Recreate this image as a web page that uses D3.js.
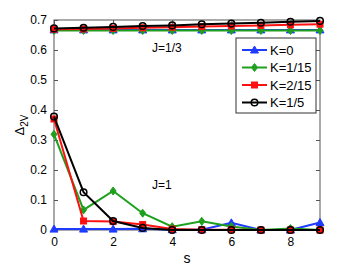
<!DOCTYPE html>
<html>
<head>
<meta charset="utf-8">
<script src="https://cdn.jsdelivr.net/npm/d3@7"></script>
<style>
  body { margin: 0; background: #fff; }
  svg text { font-family: "Liberation Sans", Arial, sans-serif; fill: #000; }
</style>
</head>
<body>
<div id="chart"></div>
<script>
var width = 354, height = 266;
var margin = {top: 20, right: 34, bottom: 36, left: 54};

// s values along the x axis
var sVals = [0, 1, 2, 3, 4, 5, 6, 7, 8, 9];
var xTicks = [0, 2, 4, 6, 8];
var yTicks = [0, 0.1, 0.2, 0.3, 0.4, 0.5, 0.6, 0.7];

// J=1/3 branch (upper curves)
var k0Top   = [0.667, 0.667, 0.667, 0.667, 0.667, 0.667, 0.667, 0.667, 0.667, 0.667];
var k115Top = [0.665, 0.665, 0.665, 0.665, 0.665, 0.665, 0.665, 0.665, 0.665, 0.665];
var k215Top = [0.669, 0.670, 0.672, 0.674, 0.676, 0.678, 0.680, 0.682, 0.684, 0.686];
var k15Top  = [0.672, 0.674, 0.677, 0.680, 0.682, 0.686, 0.688, 0.691, 0.694, 0.697];

// J=1 branch (lower curves)
var k0Low   = [0.003, 0.003, 0.003, 0.004, 0.001, 0.001, 0.024, 0.000, 0.000, 0.025];
var k115Low = [0.319, 0.067, 0.130, 0.056, 0.011, 0.029, 0.012, 0.000, 0.005, 0.000];
var k215Low = [0.370, 0.030, 0.028, 0.018, 0.003, 0.001, 0.001, 0.000, 0.000, 0.000];
var k15Low  = [0.378, 0.126, 0.030, 0.007, 0.000, 0.000, 0.000, 0.000, 0.000, 0.000];

var series = [
  {name: "K=0",    color: "#1f3bff", marker: "triangle", top: k0Top,   low: k0Low},
  {name: "K=1/15", color: "#1ea01e", marker: "diamond",  top: k115Top, low: k115Low},
  {name: "K=2/15", color: "#ff1010", marker: "square",   top: k215Top, low: k215Low},
  {name: "K=1/5",  color: "#000000", marker: "circle",   top: k15Top,  low: k15Low}
];

var svg = d3.select("#chart").append("svg")
  .attr("width", width).attr("height", height);

var x = d3.scaleLinear().domain([0, 9]).range([margin.left, width - margin.right]);
var y = d3.scaleLinear().domain([0, 0.7]).range([height - margin.bottom, margin.top]);

// axes box, matlab style with inward ticks
var axisColor = "#555";
svg.append("rect")
  .attr("x", x(0)).attr("y", y(0.7))
  .attr("width", x(9) - x(0)).attr("height", y(0) - y(0.7))
  .attr("fill", "none").attr("stroke", axisColor).attr("stroke-width", 1);

var xAxis = svg.append("g").attr("transform", "translate(0," + y(0) + ")")
  .call(d3.axisBottom(x).tickValues(xTicks).tickSize(-4).tickPadding(7).tickFormat(d3.format("d")));
var xAxisTop = svg.append("g").attr("transform", "translate(0," + y(0.7) + ")")
  .call(d3.axisTop(x).tickValues(xTicks).tickSize(-4).tickFormat(""));
var yAxis = svg.append("g").attr("transform", "translate(" + x(0) + ",0)")
  .call(d3.axisLeft(y).tickValues(yTicks).tickSize(-4).tickPadding(7)
    .tickFormat(function(d) { return d === 0 ? "0" : d3.format(".1f")(d); }));
var yAxisRight = svg.append("g").attr("transform", "translate(" + x(9) + ",0)")
  .call(d3.axisRight(y).tickValues(yTicks).tickSize(-4).tickFormat(""));

[xAxis, xAxisTop, yAxis, yAxisRight].forEach(function(a) {
  a.select(".domain").remove();
  a.selectAll("line").attr("stroke", axisColor);
  a.selectAll("text").attr("font-size", 12).style("font-family", "Liberation Sans, Arial, sans-serif");
});

var line = d3.line()
  .x(function(d, i) { return x(sVals[i]); })
  .y(function(d) { return y(d); });

function drawMarker(g, type, cx, cy, color) {
  if (type === "triangle") {
    g.append("path")
      .attr("d", "M" + cx + "," + (cy - 4) + "L" + (cx + 4) + "," + (cy + 3) + "L" + (cx - 4) + "," + (cy + 3) + "Z")
      .attr("fill", color).attr("stroke", color).attr("stroke-width", 1);
  } else if (type === "diamond") {
    g.append("path")
      .attr("d", "M" + cx + "," + (cy - 4) + "L" + (cx + 3) + "," + cy + "L" + cx + "," + (cy + 4) + "L" + (cx - 3) + "," + cy + "Z")
      .attr("fill", color).attr("stroke", color).attr("stroke-width", 1);
  } else if (type === "square") {
    g.append("rect")
      .attr("x", cx - 3).attr("y", cy - 3).attr("width", 6).attr("height", 6)
      .attr("fill", color).attr("stroke", color).attr("stroke-width", 1);
  } else {
    g.append("circle")
      .attr("cx", cx).attr("cy", cy).attr("r", 3.3)
      .attr("fill", "none").attr("stroke", color).attr("stroke-width", 1.5);
  }
}

var plot = svg.append("g");
series.forEach(function(s) {
  [s.top, s.low].forEach(function(vals) {
    plot.append("path").datum(vals)
      .attr("d", line)
      .attr("fill", "none")
      .attr("stroke", s.color)
      .attr("stroke-width", 2);
    vals.forEach(function(v, i) {
      drawMarker(plot, s.marker, x(sVals[i]), y(v), s.color);
    });
  });
});

// annotations
svg.append("text").attr("x", 152).attr("y", 52).attr("font-size", 12).text("J=1/3");
svg.append("text").attr("x", 152).attr("y", 189).attr("font-size", 12).text("J=1");

// axis labels
svg.append("text")
  .attr("x", (x(0) + x(9)) / 2).attr("y", 263)
  .attr("text-anchor", "middle").attr("font-size", 14).text("s");

var yl = svg.append("text")
  .attr("transform", "translate(24," + 125 + ") rotate(-90)")
  .attr("text-anchor", "middle").attr("font-size", 13);
yl.append("tspan").text("\u0394");
yl.append("tspan").attr("font-size", 10).attr("dy", 4).text("2V");

// legend
var lg = svg.append("g").attr("transform", "translate(236,38)");
lg.append("rect").attr("width", 80).attr("height", 75)
  .attr("fill", "#fff").attr("stroke", "#333").attr("stroke-width", 1);
series.forEach(function(s, i) {
  var ly = 12 + i * 17.5;
  lg.append("line").attr("x1", 6).attr("x2", 31).attr("y1", ly).attr("y2", ly)
    .attr("stroke", s.color).attr("stroke-width", 2);
  drawMarker(lg, s.marker, 18.5, ly, s.color);
  lg.append("text").attr("x", 34).attr("y", ly + 4.5).attr("font-size", 13).text(s.name);
});
</script>
</body>
</html>
